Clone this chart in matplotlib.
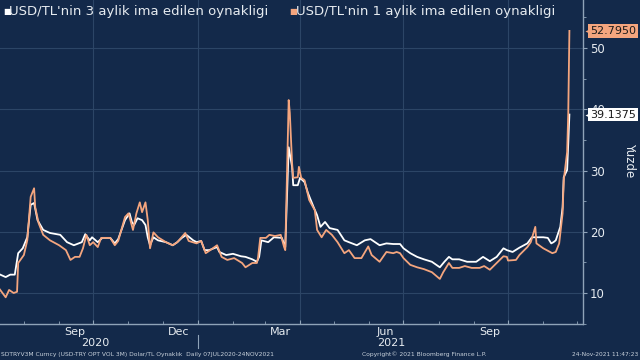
import matplotlib
matplotlib.use('Agg')
import matplotlib.pyplot as plt
import matplotlib.dates as mdates
import matplotlib.transforms as mtransforms
import pandas as pd

# ---------------- data ----------------
dates_3m = ["2020-07-07","2020-07-10","2020-07-16","2020-07-20","2020-07-24","2020-07-27","2020-07-31","2020-08-04","2020-08-07","2020-08-10","2020-08-13","2020-08-18","2020-08-24","2020-09-02","2020-09-08","2020-09-14","2020-09-21","2020-09-24","2020-09-28","2020-09-30","2020-10-05","2020-10-09","2020-10-16","2020-10-20","2020-10-23","2020-10-29","2020-11-02","2020-11-04","2020-11-06","2020-11-09","2020-11-13","2020-11-16","2020-11-18","2020-11-20","2020-11-23","2020-11-27","2020-12-04","2020-12-10","2020-12-14","2020-12-18","2020-12-22","2020-12-28","2020-12-31","2021-01-04","2021-01-07","2021-01-11","2021-01-18","2021-01-20","2021-01-26","2021-02-01","2021-02-08","2021-02-12","2021-02-18","2021-02-22","2021-02-24","2021-02-26","2021-03-04","2021-03-09","2021-03-16","2021-03-19","2021-03-22","2021-03-25","2021-03-26","2021-03-30","2021-04-01","2021-04-05","2021-04-08","2021-04-13","2021-04-16","2021-04-19","2021-04-23","2021-04-27","2021-05-04","2021-05-10","2021-05-14","2021-05-21","2021-05-28","2021-06-02","2021-06-10","2021-06-16","2021-06-22","2021-06-28","2021-07-01","2021-07-07","2021-07-13","2021-07-19","2021-07-26","2021-08-02","2021-08-06","2021-08-10","2021-08-13","2021-08-19","2021-08-26","2021-09-03","2021-09-09","2021-09-15","2021-09-21","2021-09-27","2021-09-30","2021-10-05","2021-10-11","2021-10-18","2021-10-22","2021-10-26","2021-11-01","2021-11-05","2021-11-08","2021-11-10","2021-11-12","2021-11-16","2021-11-18","2021-11-19","2021-11-22","2021-11-23","2021-11-24"]
vol_3m = [13.1,13.1,12.6,13.0,13.0,16.5,17.3,19.1,24.4,24.7,21.9,20.3,19.8,19.5,18.3,17.8,18.3,19.6,18.6,19.1,18.3,19.0,19.0,18.1,18.8,21.9,23.0,21.6,21.1,22.2,21.9,21.1,19.1,17.8,19.1,18.6,18.3,17.8,18.3,19.0,19.5,18.6,18.3,18.5,17.0,17.0,17.5,16.7,16.2,16.4,16.0,15.9,15.5,15.1,15.9,18.6,18.3,19.1,19.0,17.5,33.8,30.6,27.6,27.6,28.8,28.1,26.3,24.0,22.7,20.8,21.6,20.6,20.3,18.6,18.3,17.8,18.6,18.8,17.8,18.1,18.0,18.0,17.3,16.5,15.9,15.5,15.1,14.2,15.1,15.9,15.5,15.5,15.1,15.1,15.9,15.2,15.9,17.3,17.0,16.7,17.4,18.1,19.1,19.1,19.1,19.0,18.1,18.3,18.6,20.8,24.0,28.9,30.1,34.5,39.1375]

dates_1m = ["2020-07-07","2020-07-10","2020-07-16","2020-07-19","2020-07-23","2020-07-26","2020-07-27","2020-08-01","2020-08-04","2020-08-07","2020-08-10","2020-08-11","2020-08-14","2020-08-18","2020-08-24","2020-09-01","2020-09-07","2020-09-11","2020-09-15","2020-09-19","2020-09-22","2020-09-25","2020-09-28","2020-10-01","2020-10-05","2020-10-08","2020-10-16","2020-10-20","2020-10-23","2020-10-29","2020-11-01","2020-11-02","2020-11-05","2020-11-08","2020-11-11","2020-11-13","2020-11-16","2020-11-18","2020-11-20","2020-11-23","2020-11-27","2020-12-04","2020-12-10","2020-12-14","2020-12-21","2020-12-24","2020-12-31","2021-01-04","2021-01-08","2021-01-12","2021-01-18","2021-01-22","2021-01-27","2021-02-02","2021-02-09","2021-02-12","2021-02-18","2021-02-22","2021-02-23","2021-02-25","2021-03-02","2021-03-05","2021-03-10","2021-03-15","2021-03-18","2021-03-19","2021-03-22","2021-03-23","2021-03-25","2021-03-26","2021-03-30","2021-03-31","2021-04-02","2021-04-05","2021-04-09","2021-04-14","2021-04-16","2021-04-20","2021-04-24","2021-04-29","2021-05-04","2021-05-10","2021-05-14","2021-05-19","2021-05-25","2021-05-31","2021-06-03","2021-06-10","2021-06-16","2021-06-22","2021-06-25","2021-06-28","2021-07-01","2021-07-07","2021-07-13","2021-07-19","2021-07-26","2021-08-02","2021-08-05","2021-08-10","2021-08-13","2021-08-19","2021-08-24","2021-08-30","2021-09-06","2021-09-10","2021-09-15","2021-09-21","2021-09-27","2021-09-30","2021-10-01","2021-10-08","2021-10-11","2021-10-18","2021-10-21","2021-10-25","2021-10-26","2021-11-01","2021-11-04","2021-11-09","2021-11-12","2021-11-15","2021-11-18","2021-11-19","2021-11-22","2021-11-23","2021-11-24"]
vol_1m = [10.8,10.8,9.3,10.5,10.0,10.2,14.9,16.2,18.6,25.7,27.1,24.0,21.4,19.5,18.6,17.8,17.0,15.4,15.9,15.9,17.3,19.5,17.8,18.3,17.5,19.0,19.0,17.8,18.5,22.4,23.0,22.4,20.3,23.0,24.8,23.2,24.8,21.9,17.3,19.9,19.1,18.3,17.8,18.3,19.8,18.5,18.1,18.5,16.5,17.0,17.8,15.9,15.4,15.7,14.9,14.2,14.9,14.9,15.7,19.0,19.0,19.5,19.3,19.5,17.5,17.0,41.5,39.4,31.2,28.8,28.9,30.6,28.8,28.4,25.2,23.5,20.3,19.1,20.3,19.5,18.3,16.5,17.0,15.7,15.7,17.6,16.2,15.1,16.7,16.5,16.7,16.5,15.7,14.6,14.2,13.9,13.4,12.3,13.4,14.9,14.1,14.1,14.4,14.1,14.1,14.4,13.8,14.9,16.0,15.9,15.3,15.4,16.2,17.5,18.3,20.8,18.1,17.3,17.0,16.5,16.7,18.1,23.0,28.4,33.0,39.4,52.795]

label_3m = "USD/TL'nin 3 aylik ima edilen oynakligi"
label_1m = "USD/TL'nin 1 aylik ima edilen oynakligi"
y_ticks = [10, 20, 30, 40, 50]
x_month_labels = ["Sep", "Dec", "Mar", "Jun", "Sep"]
x_label_dates = ["2020-09-15", "2020-12-15", "2021-03-15", "2021-06-15", "2021-09-15"]
year_labels = ["2020", "2021"]
year_label_dates = ["2020-10-03", "2021-06-20"]

# ---------------- style ----------------
BG = '#13294a'
GRID = '#2c4566'
AX = '#8fa3b8'
WHITE = '#ffffff'
ORANGE = '#f4a57e'
TXT = '#e6ebf0'

d3 = pd.to_datetime(dates_3m)
d1 = pd.to_datetime(dates_1m)

fig = plt.figure(figsize=(6.4, 3.6), dpi=100, facecolor=BG)
ax = fig.add_axes([0.0, 0.1, 0.911, 0.9], facecolor=BG)

ax.plot(d3, vol_3m, color=WHITE, lw=1.3, zorder=3)
ax.plot(d1, vol_1m, color=ORANGE, lw=1.3, zorder=4)

ax.set_xlim(pd.Timestamp("2020-07-11"), pd.Timestamp("2021-12-06"))
ax.set_ylim(4.94, 57.84)

# y axis on right
ax.yaxis.tick_right()
ax.set_yticks(y_ticks)
ax.set_yticks([5, 15, 25, 35, 45, 55], minor=True)
ax.tick_params(axis='y', which='major', colors=AX, labelcolor=TXT, labelsize=8.5,
               length=3, direction='out', pad=2)
ax.tick_params(axis='y', which='minor', colors=AX, length=2, direction='out')

# x axis: quarter grid, month minor ticks
quarter = [pd.Timestamp(s) for s in ["2020-10-01", "2021-01-01", "2021-04-01", "2021-07-01", "2021-10-01"]]
ax.set_xticks(quarter)
ax.set_xticklabels([])
ax.xaxis.set_minor_locator(mdates.MonthLocator())
ax.tick_params(axis='x', which='major', colors=AX, length=3, direction='in')
ax.tick_params(axis='x', which='minor', colors=AX, length=2, direction='in')

ax.grid(True, which='major', color=GRID, lw=0.8)

for s in ['top', 'left']:
    ax.spines[s].set_visible(False)
for s in ['bottom', 'right']:
    ax.spines[s].set_color(AX)
    ax.spines[s].set_linewidth(1.0)

trans = mtransforms.blended_transform_factory(ax.transData, ax.transAxes)
for lab, dt in zip(x_month_labels, x_label_dates):
    ax.text(pd.Timestamp(dt), -0.024, lab, transform=trans, ha='center', va='center',
            color=TXT, fontsize=8)
for lab, dt in zip(year_labels, year_label_dates):
    ax.text(pd.Timestamp(dt), -0.06, lab, transform=trans, ha='center', va='center',
            color=TXT, fontsize=8)
ax.plot([pd.Timestamp("2021-01-01")] * 2, [-0.035, -0.075], transform=trans,
        color=AX, lw=0.8, clip_on=False)

# legend
ax.text(0.005, 0.965, "■", transform=ax.transAxes, color=WHITE, fontsize=6, va='center')
ax.text(0.016, 0.965, label_3m, transform=ax.transAxes, color=TXT, fontsize=9.5, va='center')
ax.text(0.496, 0.965, "■", transform=ax.transAxes, color=ORANGE, fontsize=6, va='center')
ax.text(0.507, 0.965, label_1m, transform=ax.transAxes, color=TXT, fontsize=9.5, va='center')

# last-value tags
ytrans = mtransforms.blended_transform_factory(ax.transAxes, ax.transData)
for val, fc in [(vol_1m[-1], ORANGE), (vol_3m[-1], WHITE)]:
    ax.text(1.012, val, f"{val:.4f}", transform=ytrans, ha='left', va='center',
            fontsize=8, color='#1a1a1a', zorder=10, clip_on=False,
            bbox=dict(boxstyle='square,pad=0.15', fc=fc, ec='none'))
    ax.plot([1.008], [val], transform=ytrans, marker='<', ms=5, color=fc,
            clip_on=False, zorder=10, mec='none')

ax.text(0.984, 0.555, "Yuzde", transform=fig.transFigure, rotation=270,
        ha='center', va='center', color=TXT, fontsize=8.5)

# footer
FOOT = '#c9d2dc'
fig.text(0.002, 0.016, "SDTRYV3M Curncy (USD-TRY OPT VOL 3M) Dolar/TL Oynaklık  Daily 07JUL2020-24NOV2021",
         color=FOOT, fontsize=4.3, va='center', ha='left')
fig.text(0.663, 0.016, "Copyright© 2021 Bloomberg Finance L.P.", color=FOOT,
         fontsize=4.3, va='center', ha='center')
fig.text(0.997, 0.016, "24-Nov-2021 11:47:23", color=FOOT, fontsize=4.2,
         va='center', ha='right')

fig.savefig("out.png", dpi=100, facecolor=BG)
